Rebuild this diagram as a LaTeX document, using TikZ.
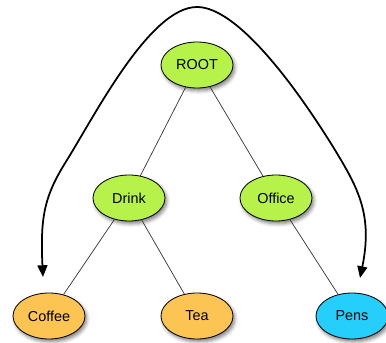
\documentclass[tikz,border=0pt]{standalone}
\usepackage{fontspec}
\setmainfont{Liberation Sans}
\usetikzlibrary{arrows.meta,shapes.geometric,shadows.blur}

\definecolor{leafgreen}{RGB}{182,242,74}
\definecolor{drinkorange}{RGB}{252,196,82}
\definecolor{penblue}{RGB}{38,206,252}

\tikzset{
  treenode/.style={ellipse, draw=black, line width=0.7pt,
    minimum width=2.16cm, minimum height=1.38cm, inner sep=0pt,
    font=\fontsize{12.3}{14}\selectfont,
    blur shadow={shadow xshift=1.6pt, shadow yshift=-2.4pt,
      shadow blur radius=3pt, shadow opacity=50}},
  inner/.style={treenode, fill=leafgreen},
  drinkleaf/.style={treenode, fill=drinkorange},
  officeleaf/.style={treenode, fill=penblue},
  branch/.style={draw=black!80, line width=0.6pt},
  traversal/.style={draw=black, line width=1.5pt,
    {Triangle[length=10pt,width=8.5pt]}-{Triangle[length=10pt,width=8.5pt]}}
}

\begin{document}
\begin{tikzpicture}[x=0.03cm, y=-0.03cm]
  \useasboundingbox (0,0) rectangle (386,343);

  % tree nodes
  \node[inner]      (root)   at (197,65)  {ROOT};
  \node[inner]      (drink)  at (129,198) {Drink};
  \node[inner]      (office) at (276,198) {Office};
  \node[drinkleaf]  (coffee) at (49,316)  {Coffee};
  \node[drinkleaf]  (tea)    at (197,316) {Tea};
  \node[officeleaf] (pens)   at (352,316) {Pens};

  % branches
  \draw[branch] (root) -- (drink);
  \draw[branch] (root) -- (office);
  \draw[branch] (drink) -- (coffee);
  \draw[branch] (drink) -- (tea);
  \draw[branch] (office) -- (pens);

  % traversal arc over the tree
  \coordinate (lefttip)  at (43,277);
  \coordinate (righttip) at (360,278);
  \draw[traversal] (lefttip)
      .. controls (40,215) and (45,195) .. (67,160)
      .. controls (95,115) and (150,7) .. (197,7)
      .. controls (237,7) and (295,85) .. (335,150)
      .. controls (358,188) and (373,215) .. (righttip);
\end{tikzpicture}
\end{document}
